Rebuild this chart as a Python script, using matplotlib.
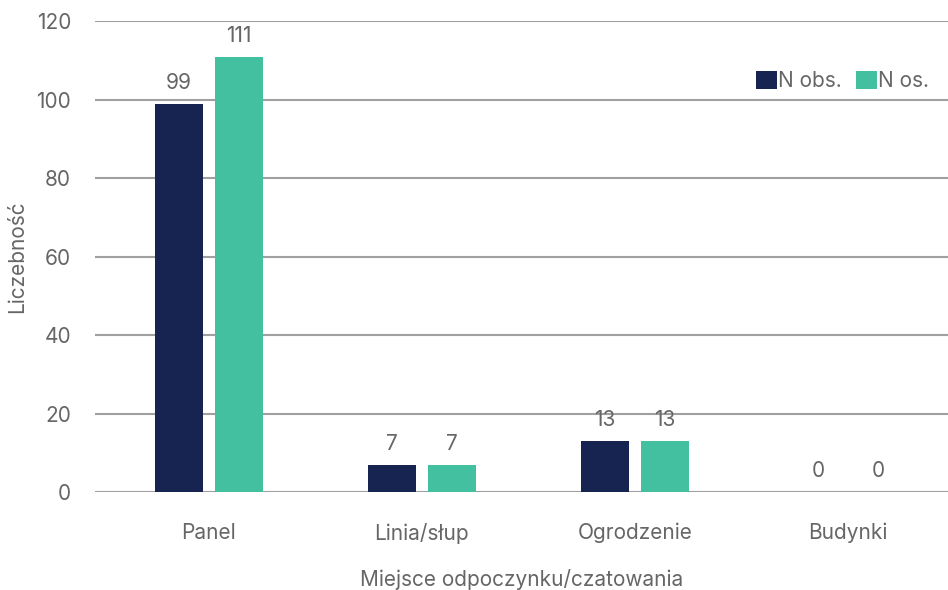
import matplotlib.pyplot as plt
import numpy as np

categories = ["Panel", "Linia/słup", "Ogrodzenie", "Budynki"]
n_obs = [99, 7, 13, 0]
n_os = [111, 7, 13, 0]
series_names = ["N obs.", "N os."]
y_ticks = [0, 20, 40, 60, 80, 100, 120]

NAVY = "#172350"
TEAL = "#42c0a0"
TEXT = "#666666"
GRID = "#a0a0a0"
FS = 15

plt.rcParams["font.family"] = ["Inter", "DejaVu Sans"]

fig = plt.figure(figsize=(9.48, 5.9), dpi=100)
ax = fig.add_axes([0.1, 0.166, 0.9, 0.798])

x = np.arange(len(categories))
w = 0.225
off = 0.141
b1 = ax.bar(x - off, n_obs, w, color=NAVY, label=series_names[0], zorder=3)
b2 = ax.bar(x + off, n_os, w, color=TEAL, label=series_names[1], zorder=3)

for bars in (b1, b2):
    for bar in bars:
        h = bar.get_height()
        ax.text(bar.get_x() + bar.get_width() / 2, h + 2.8, f"{h:.0f}",
                ha="center", va="bottom", fontsize=FS, color=TEXT)

ax.set_xlim(-0.535, 3.47)
ax.set_ylim(0, 120)
ax.set_yticks(y_ticks)
ax.set_xticks(x)
ax.set_xticklabels(categories)
ax.tick_params(axis="both", length=0, labelsize=FS, labelcolor=TEXT)
ax.tick_params(axis="x", pad=22)
ax.tick_params(axis="y", pad=17)
ax.grid(axis="y", color=GRID, linewidth=1.5, zorder=0)
for s in ax.spines.values():
    s.set_visible(False)

ax.set_ylabel("Liczebność", fontsize=FS, color=TEXT)
ax.set_xlabel("Miejsce odpoczynku/czatowania", fontsize=FS, color=TEXT)
ax.yaxis.set_label_coords(-0.079, 0.5)
ax.xaxis.set_label_coords(0.5, -0.163)

ax.legend(loc="upper right", bbox_to_anchor=(1.0, 0.935), frameon=False,
          ncol=2, fontsize=FS, handlelength=1.0, handleheight=1.0,
          handletextpad=0.05, columnspacing=0.7, labelcolor=TEXT)

fig.savefig("out.png", dpi=100)
